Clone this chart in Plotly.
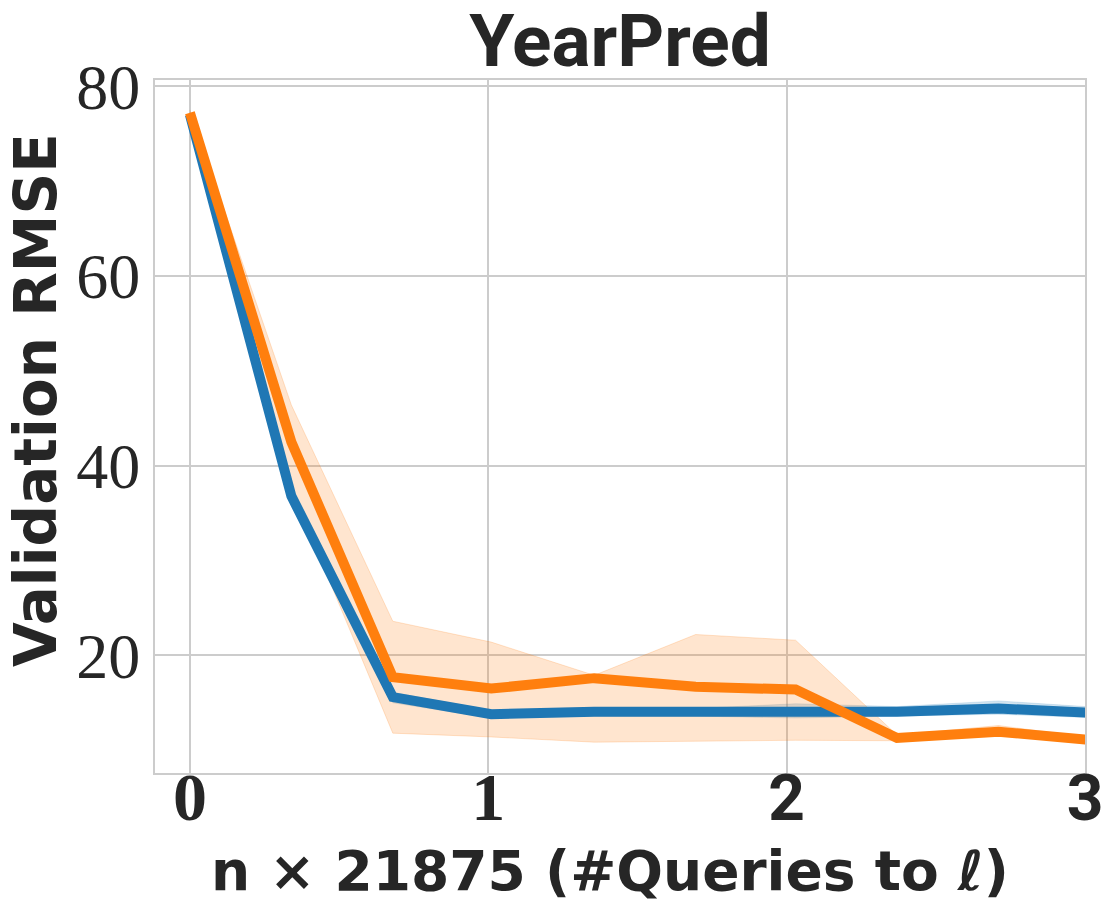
import plotly.graph_objects as go

# x positions (in units of 21875 queries)
x_vals = [0, 0.34, 0.68, 1.01, 1.355, 1.695, 2.03, 2.37, 2.71, 3.05]

blue_mean = [77.0, 36.8, 15.6, 13.8, 14.05, 14.0, 14.06, 14.06, 14.4, 13.9]
blue_low = [76.7, 35.8, 15.0, 13.4, 13.6, 13.6, 13.4, 13.6, 13.8, 13.4]
blue_high = [77.3, 37.6, 16.1, 14.2, 14.5, 14.4, 14.9, 14.6, 15.2, 14.5]

orange_mean = [77.2, 42.5, 17.7, 16.5, 17.6, 16.7, 16.4, 11.3, 11.95, 11.0]
orange_low = [76.9, 37.5, 11.8, 11.4, 10.85, 10.95, 11.05, 11.0, 11.5, 10.8]
orange_high = [77.5, 46.4, 23.6, 21.4, 17.9, 22.2, 21.6, 11.6, 12.6, 11.2]

x_ticks = [0, 1, 2, 3]
y_ticks = [20, 40, 60, 80]

BLUE = "#1f77b4"
ORANGE = "#ff7f0e"
TEXT = "#262626"
GRID = "#cccccc"
SERIF = "Liberation Serif"
SANS = "Roboto"
WIDE = "DejaVu Sans"

# page body adds an 8px margin, so the figure is 8px smaller than the window
W, H = 1110, 914
L, R, T, B = 147, 33, 72, 149


def band(lo, hi, color, edge):
    return go.Scatter(
        x=x_vals + x_vals[::-1],
        y=hi + lo[::-1],
        fill="toself",
        fillcolor=color,
        line=dict(color=edge, width=1),
        hoverinfo="skip",
        showlegend=False,
    )


fig = go.Figure()
fig.add_trace(band(blue_low, blue_high, "rgba(31,119,180,0.2)", "rgba(31,119,180,0.15)"))
fig.add_trace(band(orange_low, orange_high, "rgba(255,127,14,0.2)", "rgba(255,127,14,0.2)"))
fig.add_trace(go.Scatter(x=x_vals, y=blue_mean, mode="lines",
                         line=dict(color=BLUE, width=10), showlegend=False))
fig.add_trace(go.Scatter(x=x_vals, y=orange_mean, mode="lines",
                         line=dict(color=ORANGE, width=10), showlegend=False))

# first two x tick labels serif, the rest sans (as in the source figure)
x_ticktext = [
    f'<span style="font-family:{SERIF};font-size:68px">{t}</span>' if t < 2 else str(t)
    for t in x_ticks
]

pw, ph = W - L - R, H - T - B

fig.update_layout(
    width=W,
    height=H,
    plot_bgcolor="white",
    paper_bgcolor="white",
    margin=dict(l=L, r=R, t=T, b=B),
    showlegend=False,
    title=dict(
        text="<b>YearPred</b>",
        x=(L + pw / 2) / W,
        xanchor="center",
        y=1 - 32 / H,
        yanchor="middle",
        yref="container",
        font=dict(family=SANS, size=73, color=TEXT),
    ),
    xaxis=dict(
        range=[-0.117, 3.0],
        tickvals=x_ticks,
        ticktext=x_ticktext,
        tickfont=dict(family=SANS, size=64, color=TEXT, weight="bold"),
        ticklabelstandoff=-32,
        automargin=False,
        showgrid=True,
        gridcolor=GRID,
        gridwidth=1.5,
        zeroline=False,
        showline=True,
        linecolor=GRID,
        linewidth=2,
        mirror=True,
        ticks="",
    ),
    yaxis=dict(
        range=[7.6, 80.66],
        tickvals=y_ticks,
        tickfont=dict(family=SERIF, size=64, color=TEXT),
        automargin=False,
        showgrid=True,
        gridcolor=GRID,
        gridwidth=1.5,
        zeroline=False,
        showline=True,
        linecolor=GRID,
        linewidth=2,
        mirror=True,
        ticks="",
    ),
)

fig.add_annotation(
    text="<b>n × 21875 (#Queries to <i>ℓ</i>)</b>",
    xref="paper", yref="paper",
    x=(602 - L) / pw, y=-(98 / ph),
    xanchor="center", yanchor="middle",
    showarrow=False,
    font=dict(family=WIDE, size=55, color=TEXT),
)
fig.add_annotation(
    text="<b>Validation RMSE</b>",
    xref="paper", yref="paper",
    x=(28 - L) / pw, y=(765 - 392) / ph,
    xanchor="center", yanchor="middle",
    textangle=-90,
    showarrow=False,
    font=dict(family=WIDE, size=58, color=TEXT),
)

fig.write_html("out.html")
